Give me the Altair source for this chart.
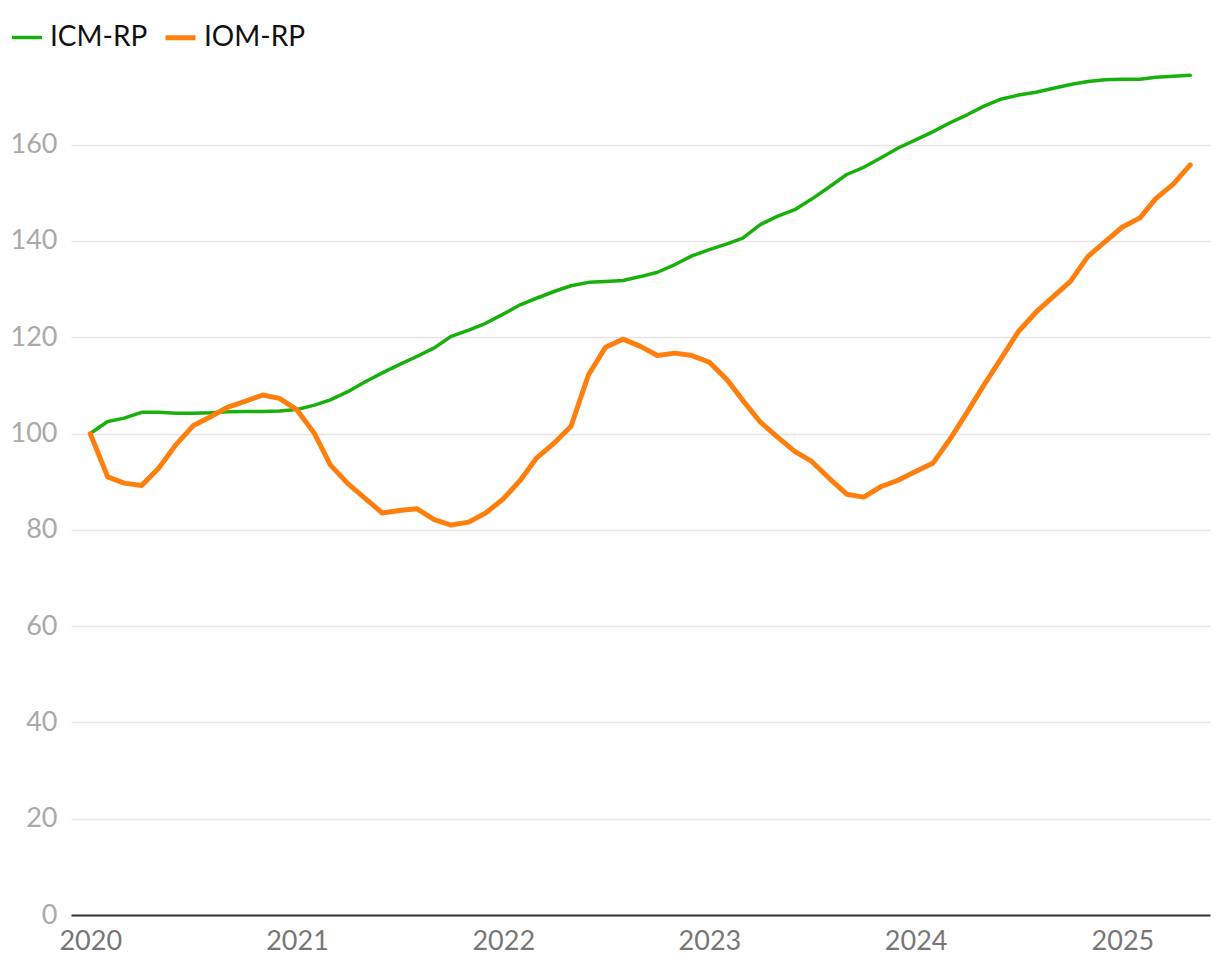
import altair as alt
import pandas as pd

months = pd.date_range("2020-01-01", "2025-05-01", freq="MS").strftime("%Y-%m-%d").tolist()

icm_rp = [100.0, 102.5, 103.2, 104.4, 104.4, 104.2, 104.2, 104.3, 104.5, 104.6,
          104.6, 104.7, 105.0, 105.9, 107.0, 108.7, 110.7, 112.6, 114.3, 116.0,
          117.8, 120.2, 121.5, 122.9, 124.8, 126.8, 128.1, 129.5, 130.7, 131.4,
          131.6, 131.8, 132.6, 133.5, 135.1, 136.9, 138.2, 139.4, 140.6, 143.4,
          145.1, 146.5, 148.7, 151.2, 153.8, 155.3, 157.3, 159.3, 161.0, 162.7,
          164.5, 166.2, 168.0, 169.5, 170.3, 170.9, 171.7, 172.5, 173.1, 173.5,
          173.6, 173.6, 174.0, 174.2, 174.4]

iom_rp = [100.0, 91.0, 89.7, 89.2, 92.8, 97.7, 101.6, 103.5, 105.5, 106.7,
          108.0, 107.3, 104.9, 100.0, 93.5, 89.6, 86.6, 83.5, 84.0, 84.4,
          82.1, 81.0, 81.6, 83.5, 86.4, 90.4, 94.9, 98.0, 101.5, 112.2,
          117.9, 119.6, 118.1, 116.2, 116.7, 116.2, 114.8, 111.2, 106.9, 102.4,
          99.3, 96.3, 94.2, 90.7, 87.4, 86.8, 89.0, 90.3, 92.1, 93.9,
          98.7, 104.4, 110.1, 115.7, 121.2, 125.2, 128.5, 131.6, 136.8, 139.8,
          142.9, 144.8, 148.8, 151.8, 155.8]

series_names = ["ICM-RP", "IOM-RP"]
series_colors = ["#18b00c", "#ff7f0e"]
year_ticks = [2020, 2021, 2022, 2023, 2024, 2025]
y_ticks = [0, 20, 40, 60, 80, 100, 120, 140, 160]

rows = []
for m, a, b in zip(months, icm_rp, iom_rp):
    rows.append({"date": m, "series": "ICM-RP", "value": a})
    rows.append({"date": m, "series": "IOM-RP", "value": b})
df = pd.DataFrame(rows)

FONT = "Lato"

x_enc = alt.X(
    "date:T",
    scale=alt.Scale(domain=[alt.DateTime(year=2019, month=11, date=28),
                            alt.DateTime(year=2025, month=6, date=5)], nice=False),
    axis=alt.Axis(
        values=[alt.DateTime(year=y, month=1, date=1) for y in year_ticks],
        format="%Y", title=None, ticks=False, grid=False,
        domain=True, domainColor="#333333", domainWidth=2,
        labelColor="#777777", labelFontSize=27, labelFont=FONT,
        labelPadding=13, labelFlush=False,
    ),
)
y_enc = alt.Y(
    "value:Q",
    scale=alt.Scale(domain=[0, 178], nice=False, zero=True),
    axis=alt.Axis(
        values=y_ticks, title=None, ticks=False, domain=False,
        grid=True, gridColor="#e6e6e6", gridWidth=1.5,
        labelColor="#aaaaaa", labelFontSize=27, labelFont=FONT,
        labelPadding=14,
    ),
)

color_enc = alt.Color(
    "series:N",
    scale=alt.Scale(domain=series_names, range=series_colors),
    legend=alt.Legend(
        title=None, orient="none", legendX=-61, legendY=-38,
        direction="horizontal", symbolType="stroke", symbolSize=900,
        symbolStrokeWidth=4, labelFontSize=28, labelFont=FONT,
        labelColor="#111111", columnPadding=7, labelOffset=6,
    ),
)

chart = alt.Chart(df).mark_line(strokeJoin="round", strokeCap="round").encode(
    x=x_enc,
    y=y_enc,
    color=color_enc,
    strokeWidth=alt.StrokeWidth(
        "series:N",
        scale=alt.Scale(domain=series_names, range=[3.5, 5]),
        legend=None,
    ),
).properties(
    width=1139,
    height=857,
    autosize=alt.AutoSizeParams(type="none"),
    padding={"left": 63, "top": 50, "right": 2, "bottom": 50},
).configure(font=FONT).configure_view(strokeWidth=0, stroke="transparent")

chart.save("out.html", embed_options={"renderer": "svg", "actions": False})
